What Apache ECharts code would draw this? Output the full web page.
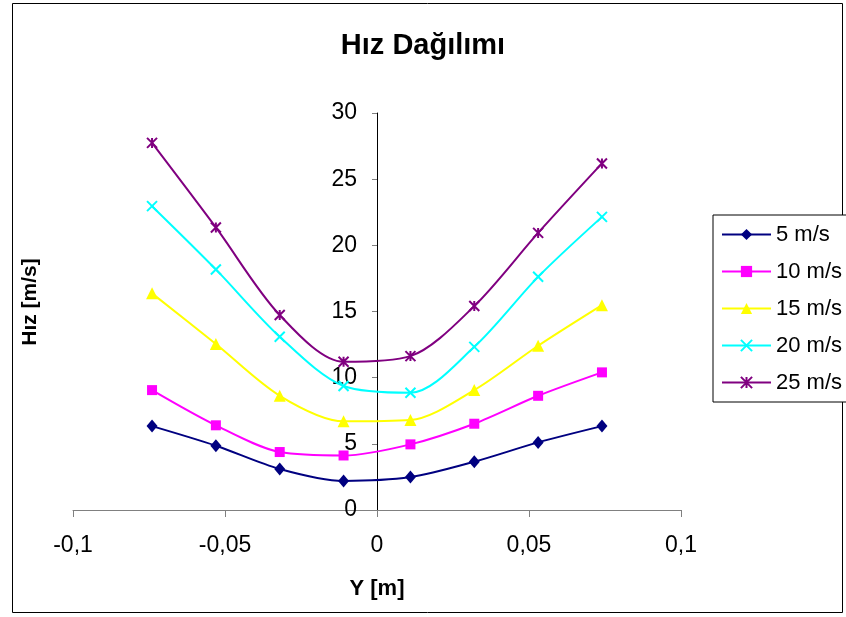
<!DOCTYPE html>
<html>
<head>
<meta charset="utf-8">
<script src="https://cdn.jsdelivr.net/npm/echarts@6/dist/echarts.min.js"></script>
<style>
  html, body { margin: 0; padding: 0; background: #fff; }
  #chart { width: 846px; height: 617px; }
</style>
</head>
<body>
<div id="chart"></div>
<script>
// Radial positions across the duct [m]
const positions = [-0.074, -0.053, -0.032, -0.011, 0.011, 0.032, 0.053, 0.074];

// Measured velocity [m/s] for each inlet speed
const speed5  = [6.34, 4.86, 3.10, 2.20, 2.49, 3.65, 5.11, 6.34];
const speed10 = [9.06, 6.40, 4.38, 4.12, 4.96, 6.52, 8.63, 10.40];
const speed15 = [16.37, 12.54, 8.63, 6.70, 6.80, 9.06, 12.41, 15.48];
const speed20 = [22.96, 18.18, 13.09, 9.37, 8.86, 12.33, 17.62, 22.15];
const speed25 = [27.74, 21.35, 14.73, 11.20, 11.63, 15.41, 20.94, 26.19];

const seriesNames = ['5 m/s', '10 m/s', '15 m/s', '20 m/s', '25 m/s'];

const FONT = "'Liberation Sans', Arial, Helvetica, sans-serif";

const GRID = { left: 73, right: 165, top: 113, bottom: 107 };
const CHART_W = 846;
// horizontal pixel of x = 0, where the value axis crosses
const zeroX = GRID.left + (CHART_W - GRID.left - GRID.right) / 2;

const pair = vals => positions.map((x, i) => [x, vals[i]]);

const crossPath = 'path://M0 0L10 10M10 0L0 10';
const starPath = 'path://M0 0L10 10M10 0L0 10M5 0L5 10';

function lineSeries(name, vals, color, symbol, size, stroked) {
  return {
    name: name,
    type: 'line',
    data: pair(vals),
    smooth: 0.3,
    symbol: symbol,
    symbolSize: size,
    showAllSymbol: true,
    lineStyle: { color: color, width: 2 },
    itemStyle: stroked
      ? { color: color, borderColor: color, borderWidth: 2 }
      : { color: color, borderWidth: 0 },
    emphasis: { disabled: true },
    animation: false
  };
}

const chart = echarts.init(document.getElementById('chart'), null, { renderer: 'canvas' });

chart.setOption({
  backgroundColor: '#ffffff',
  animation: false,
  title: {
    text: 'Hız Dağılımı',
    left: 'center',
    top: 26,
    textStyle: { fontFamily: FONT, fontSize: 29, fontWeight: 'bold', color: '#000' }
  },
  graphic: [
    {
      type: 'rect',
      shape: { x: 12.5, y: 3.5, width: 830, height: 609 },
      style: { fill: 'none', stroke: '#000', lineWidth: 1 },
      z: -10
    },
    {
      type: 'text',
      x: 30,
      y: 302,
      rotation: Math.PI / 2,
      style: {
        text: 'Hız [m/s]',
        fontFamily: FONT,
        fontSize: 21,
        fontWeight: 'bold',
        fill: '#000',
        align: 'center',
        verticalAlign: 'middle'
      }
    }
  ],
  legend: {
    orient: 'vertical',
    left: 713,
    top: 215,
    padding: [8, 12, 8, 8],
    itemWidth: 49,
    itemHeight: 14,
    itemGap: 14,
    backgroundColor: '#fff',
    borderColor: '#000',
    borderWidth: 1,
    borderRadius: 0,
    data: seriesNames,
    textStyle: { fontFamily: FONT, fontSize: 22, color: '#000', lineHeight: 23 }
  },
  grid: GRID,
  xAxis: {
    type: 'value',
    min: -0.1,
    max: 0.1,
    interval: 0.05,
    name: 'Y [m]',
    nameLocation: 'middle',
    nameGap: 68,
    nameTextStyle: { fontFamily: FONT, fontSize: 22, fontWeight: 'bold', color: '#000' },
    axisLine: { show: true, onZero: true, lineStyle: { color: '#808080', width: 1 } },
    axisTick: { show: true, length: 7, lineStyle: { color: '#808080' } },
    axisLabel: {
      margin: 24,
      fontFamily: FONT,
      fontSize: 23,
      color: '#000',
      formatter: v => String(+v.toFixed(2)).replace('.', ',')
    },
    splitLine: { show: false }
  },
  yAxis: {
    type: 'value',
    min: 0,
    max: 30,
    interval: 5,
    axisLine: { show: true, onZero: true, lineStyle: { color: '#000', width: 1 } },
    axisTick: { show: true, length: 5, lineStyle: { color: '#808080' } },
    // labels sit beside the crossing axis at x = 0
    axisLabel: { margin: 20 - (zeroX - GRID.left), fontFamily: FONT, fontSize: 23, color: '#000' },
    splitLine: { show: false }
  },
  series: [
    lineSeries(seriesNames[0], speed5, '#000080', 'diamond', [11, 13], false),
    lineSeries(seriesNames[1], speed10, '#FF00FF', 'rect', 10, false),
    lineSeries(seriesNames[2], speed15, '#FFFF00', 'triangle', 12, false),
    lineSeries(seriesNames[3], speed20, '#00FFFF', crossPath, 10, true),
    lineSeries(seriesNames[4], speed25, '#800080', starPath, 10, true)
  ]
});
</script>
</body>
</html>
